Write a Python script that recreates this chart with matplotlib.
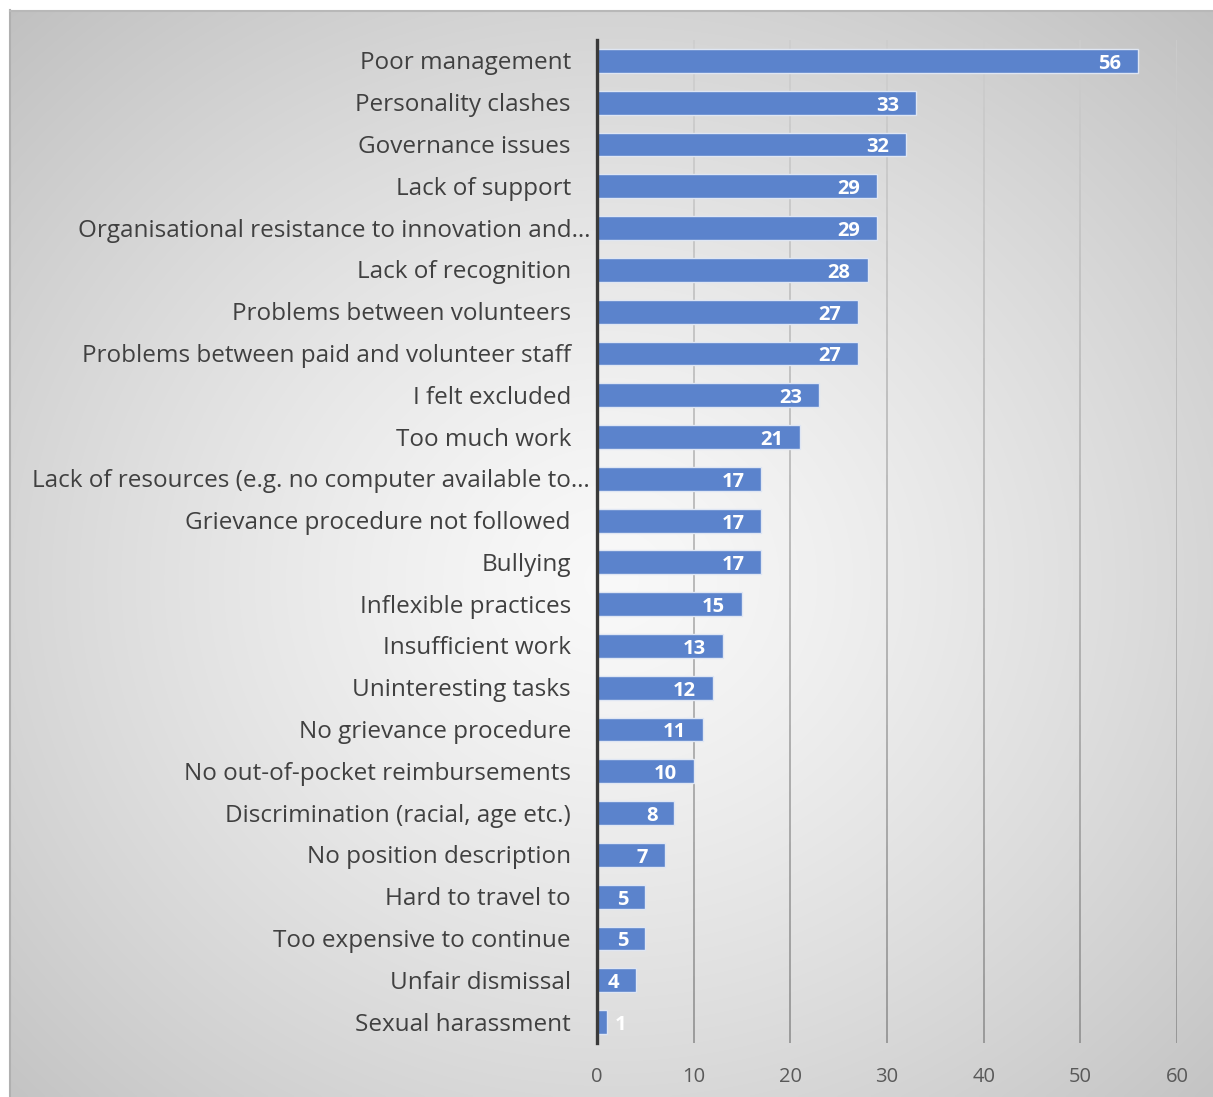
import numpy as np
import matplotlib.pyplot as plt
from matplotlib.collections import LineCollection
from matplotlib.colors import to_rgb

plt.rcParams['font.family'] = ['Open Sans', 'DejaVu Sans']

# Reasons given for leaving, counts of respondents
reasons = [
    'Poor management',
    'Personality clashes',
    'Governance issues',
    'Lack of support',
    'Organisational resistance to innovation and\u2026',
    'Lack of recognition',
    'Problems between volunteers',
    'Problems between paid and volunteer staff',
    'I felt excluded',
    'Too much work',
    'Lack of resources (e.g. no computer available to\u2026',
    'Grievance procedure not followed',
    'Bullying',
    'Inflexible practices',
    'Insufficient work',
    'Uninteresting tasks',
    'No grievance procedure',
    'No out-of-pocket reimbursements',
    'Discrimination (racial, age etc.)',
    'No position description',
    'Hard to travel to',
    'Too expensive to continue',
    'Unfair dismissal',
    'Sexual harassment',
]
counts = [56, 33, 32, 29, 29, 28, 27, 27, 23, 21, 17, 17, 17, 15, 13, 12,
          11, 10, 8, 7, 5, 5, 4, 1]
x_ticks = [0, 10, 20, 30, 40, 50, 60]

W, H = 1213, 1097
fig = plt.figure(figsize=(W / 100, H / 100), dpi=100)
fig.patch.set_facecolor('white')

# radial grey background of the chart area
bg = fig.add_axes([10 / W, 0, 1 - 10 / W, 1 - 10 / H], zorder=0)
gx, gy = np.meshgrid(np.linspace(-1, 1, 400), np.linspace(-1, 1, 400))
r = np.sqrt(((gx - 0.0) ** 2 + (gy - 0.05) ** 2) / 2.1)
r = np.clip(r, 0, 1)
val = 0.975 - 0.22 * r ** 1.3
bg.imshow(np.dstack([val, val, val]), extent=[0, 1, 0, 1], aspect='auto',
          interpolation='bilinear')
bg.set_xlim(0, 1)
bg.set_ylim(0, 1)
bg.axis('off')
fig.add_artist(plt.Line2D([10 / W, 10 / W], [0, 1 - 10 / H], color='#b0b0b0', lw=1.5))
fig.add_artist(plt.Line2D([10 / W, 1], [1 - 11 / H, 1 - 11 / H], color='#b8b8b8', lw=1.5))

ax = fig.add_axes([597 / W, 1 - 1043 / H, 580 / W, 1003 / H], zorder=1)
ax.patch.set_alpha(0)

y = np.arange(len(reasons))
ax.barh(y, counts, height=0.57, color='#5b83cc', edgecolor='#dfe6f3',
        linewidth=1.0, zorder=3)

ax.set_xlim(0, 60)
ax.set_ylim(len(reasons) - 0.5, -0.5)

# vertical gridlines shading darker towards the bottom
top_c = np.array(to_rgb('#cdcdcd'))
bot_c = np.array(to_rgb('#8a8a8a'))
n_seg = 60
ys = np.linspace(-0.5, len(reasons) - 0.5, n_seg + 1)
segs, cols = [], []
for xv in x_ticks[1:]:
    for i in range(n_seg):
        segs.append([(xv, ys[i]), (xv, ys[i + 1])])
        t = i / (n_seg - 1)
        cols.append(top_c * (1 - t) + bot_c * t)
ax.add_collection(LineCollection(segs, colors=cols, linewidths=1.1, zorder=1))

for side in ('top', 'right', 'bottom'):
    ax.spines[side].set_visible(False)
ax.spines['left'].set_color('#3a3a3a')
ax.spines['left'].set_linewidth(2.4)
ax.spines['left'].set_zorder(4)

ax.set_xticks(x_ticks)
ax.tick_params(axis='x', length=0, pad=17, labelsize=14.5, labelcolor='#595959')
ax.set_yticks([])

# category labels; truncated ones run closer to the axis
for yi, lab in zip(y, reasons):
    xpos = -0.012 if lab.endswith('\u2026') else -0.045
    ax.text(xpos, yi + 0.06, lab, transform=ax.get_yaxis_transform(), ha='right',
            va='center', fontsize=17.5, color='#404040')

# value labels at the inside end of each bar
for yi, v in zip(y, counts):
    if v >= 3:
        ax.text(v - 1.75, yi + 0.07, str(v), ha='right', va='center',
                fontsize=14.5, fontweight='bold', color='white', zorder=5)
    else:
        ax.text(v + 0.8, yi + 0.07, str(v), ha='left', va='center',
                fontsize=14.5, fontweight='bold', color='white', zorder=5)

fig.savefig('out.png', dpi=100)
